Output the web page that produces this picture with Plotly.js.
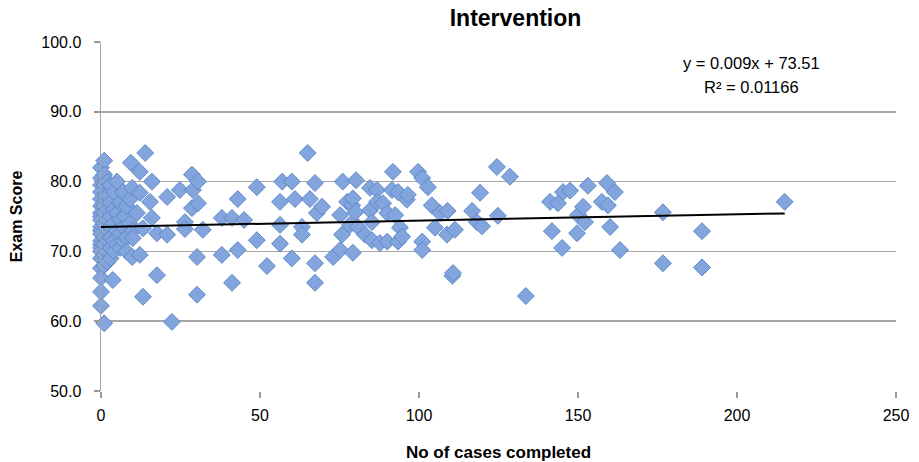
<!DOCTYPE html>
<html>
<head>
<meta charset="utf-8">
<script src="https://cdn.plot.ly/plotly-3.0.1.min.js"></script>
<style>html,body{margin:0;padding:0;background:#fff;}#chart{width:919px;height:462px;}</style>
</head>
<body>
<div id="chart"></div>
<script>
// Cases completed (x) and exam score (y)
const casesCompleted = [
  0,0,0,0,0,0,0,0,0,0,0,0,0,0,0,0,0,0,0,0,0,
  1,1,1,1,1,1,1,1,1,1,1,1,
  2,2,2,2,2,2,2,2,
  3,3,3,3,3,3,3,3.7,
  4,4,4,4,4,
  5,5,5,5,
  6,6,6,6,
  7,7,7,7.5,
  8,8,8,
  9,9.1,9.4,9.8,9.8,10,10,
  11.3,12.2,12.2,12.2,13.2,13.2,13.9,15.4,16,16,17.6,17.6,20.8,20.8,22.3,
  24.8,26.4,26.4,28.6,28.6,28.9,30.2,30.2,30.5,30.5,32,
  38,38,41.2,41.2,43,43,45,49,49,52.2,
  56.3,56.3,56.3,57,60,60,61,63.2,63.2,65,65.7,67.3,67.3,67.3,67.9,69.5,73,
  75.2,75.2,75.8,76,77.4,78.3,79,79.2,79.2,80,80.2,80.8,83,84.6,84.6,85.2,85.2,
  86.8,86.8,87.7,88.7,90,90,91.5,91.8,92.5,93.4,93.4,94,94.7,96.2,96.5,
  99.7,101,101,101,102.8,104,105,106.6,108.8,109,110.5,110.7,111.3,116.7,118.2,119.2,119.8,
  124.5,124.8,128.6,133.6,
  141.2,141.8,143.7,145,145.3,147.5,149.7,150,151.6,152.2,153.1,157.5,159.1,159.4,160.1,161.6,163.2,
  176.7,176.7,189,189,215
];
const examScores = [
  82,80.5,79.5,78.5,77.5,76.5,75.5,75,74.5,73.5,73,72.5,71.5,71,70.5,70,69,67.6,66.2,64.2,62.2,
  83,81,79.5,78,76.5,75.5,74,72,71,69.5,68,59.7,
  80,78,76,74.5,73,71.5,70,68.5,
  79.5,77,75,73.5,72,70.5,69,65.9,
  78.5,76,74,71.5,70,
  80,75.5,73,71,
  77,74.5,72.5,70.5,
  78.5,73.5,71.5,75,
  76.5,72,70,
  74,77.5,82.7,79.1,69.2,73,71.9,
  75.5,81.4,78.4,69.5,73.3,63.5,84.1,77.1,80,74.8,72.6,66.6,77.8,72.4,59.9,
  78.8,74.2,73.2,81,76.2,78.8,69.2,63.8,80,76.9,73.1,
  74.8,69.5,74.8,65.5,77.5,70.2,74.5,79.2,71.6,67.9,
  77.1,73.8,71.1,80,80,69,77.5,73.5,72.4,84.1,77.5,79.8,68.3,65.5,75.5,76.4,69.2,
  75.2,70.2,72.4,80,77.1,73.8,76.6,77.6,69.8,75.6,80.2,73.5,72.4,79.1,75.9,74.2,71.6,
  78.8,77.1,71.2,76.9,75.5,71.4,78.8,81.4,75.2,78.5,71.4,73.4,72.1,77.4,78.1,
  81.4,80.5,71.4,70.2,79.2,76.6,73.4,75.5,72.4,75.8,66.5,66.9,73.1,75.8,74.2,78.4,73.6,
  82.1,75.1,80.7,63.6,
  77.1,72.9,76.9,70.5,78.5,78.7,72.6,75.2,76.4,74.2,79.4,77.1,79.8,76.6,73.5,78.5,70.2,
  75.6,68.3,72.9,67.7,77.1
];
// Linear trend reported in the chart
const trendSlope = 0.009;
const trendIntercept = 73.51;
const trendX = [0, 215];
const trendY = trendX.map(x => trendIntercept + trendSlope * x);
const xTicks = [0, 50, 100, 150, 200, 250];
const yTicks = [50, 60, 70, 80, 90, 100];

const font = 'Liberation Sans, Arial, sans-serif';

const traces = [
  {
    type: 'scatter', mode: 'markers',
    x: casesCompleted, y: examScores,
    cliponaxis: false,
    marker: {symbol: 'diamond', size: 13, color: '#82a5dd', line: {color: '#6189c8', width: 1}},
    hoverinfo: 'x+y', showlegend: false
  },
  {
    type: 'scatter', mode: 'lines',
    x: trendX, y: trendY,
    line: {color: '#000000', width: 2},
    showlegend: false, hoverinfo: 'skip'
  }
];

const layout = {
  width: 919, height: 462,
  margin: {l: 101, r: 23, t: 42, b: 71},
  paper_bgcolor: '#ffffff', plot_bgcolor: '#ffffff',
  font: {family: font, size: 16, color: '#000'},
  title: {text: '<b>Intervention</b>', font: {family: font, size: 23, color: '#000'}, x: 0.561, xanchor: 'center', y: 0.962, yanchor: 'middle'},
  xaxis: {
    range: [0, 250], tickvals: xTicks, ticktext: xTicks.map(String),
    showgrid: false, zeroline: false,
    showline: false,
    ticks: 'outside', ticklen: 6, tickcolor: '#999', tickwidth: 1.5,
    ticklabelstandoff: 4,
    tickfont: {family: font, size: 16, color: '#000'},
    title: {text: '<b>No of cases completed</b>', font: {family: font, size: 17, color: '#000'}, standoff: 22},
    fixedrange: true
  },
  yaxis: {
    range: [50, 100], tickvals: yTicks, ticktext: yTicks.map(v => v.toFixed(1)),
    showgrid: true, gridcolor: '#a6a6a6', gridwidth: 1.5,
    zeroline: false,
    showline: true, linecolor: '#a6a6a6', linewidth: 1.5,
    ticks: 'outside', ticklen: 6, tickcolor: '#999', tickwidth: 1.5,
    ticklabelstandoff: 9,
    tickfont: {family: font, size: 16, color: '#000'},
    title: {text: '<b>Exam Score</b>', font: {family: font, size: 16, color: '#000'}, standoff: 14},
    fixedrange: true
  },
  annotations: [
    {xref: 'paper', yref: 'paper', x: 0.818, y: 0.94, xanchor: 'center', yanchor: 'middle', showarrow: false,
     text: 'y = 0.009x + 73.51', font: {family: font, size: 16.5, color: '#000'}},
    {xref: 'paper', yref: 'paper', x: 0.818, y: 0.872, xanchor: 'center', yanchor: 'middle', showarrow: false,
     text: 'R² = 0.01166', font: {family: font, size: 16.5, color: '#000'}}
  ]
};

Plotly.newPlot('chart', traces, layout, {displayModeBar: false, staticPlot: true});
</script>
</body>
</html>
